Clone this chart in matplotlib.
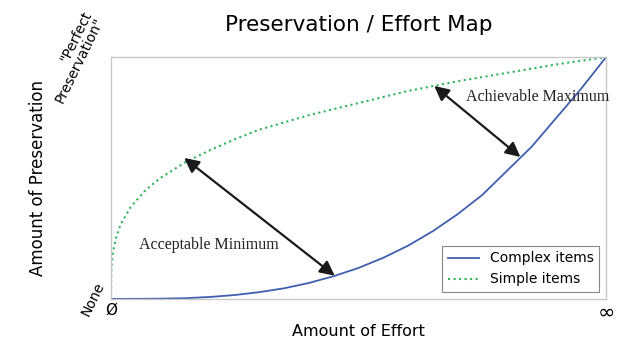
import numpy as np
import matplotlib.pyplot as plt

# curves (axes run 0..1 on both sides)
complex_x = [0.0, 0.05, 0.1, 0.15, 0.2, 0.25, 0.3, 0.35, 0.4, 0.45, 0.5,
             0.55, 0.6, 0.65, 0.7, 0.75, 0.8, 0.85, 0.9, 0.95, 1.0]
complex_y = [0.0, 0.0002, 0.001, 0.003, 0.008, 0.016, 0.028, 0.044, 0.066,
             0.094, 0.128, 0.17, 0.22, 0.28, 0.35, 0.43, 0.53, 0.63, 0.75,
             0.87, 1.0]

simple_x = [0.0, 0.001, 0.004, 0.01, 0.02, 0.04, 0.07, 0.1, 0.15, 0.2, 0.25,
            0.3, 0.4, 0.5, 0.6, 0.7, 0.8, 0.9, 1.0]
simple_y = [0.0, 0.13, 0.19, 0.25, 0.31, 0.38, 0.45, 0.50, 0.565, 0.615, 0.66,
            0.70, 0.76, 0.81, 0.86, 0.90, 0.935, 0.97, 1.0]

xtick_labels = ['Ø', '∞']
ytick_labels = ['None', '"Perfect\nPreservation"']

# arrows: (label, point on simple curve, point on complex curve, text pos)
notes = [
    ('Acceptable Minimum', (0.148, 0.583), (0.452, 0.096), (0.056, 0.224)),
    ('Achievable Maximum', (0.653, 0.881), (0.827, 0.587), (0.718, 0.837)),
]

fig = plt.figure(figsize=(6.3, 3.42), dpi=100)
ax = fig.add_axes([0.176, 0.126, 0.786, 0.707])

ax.plot(complex_x, complex_y, color='#3f5fb0', lw=1.3, label='Complex items')
ax.plot(simple_x, simple_y, color='#2fb35a', lw=1.5, ls=':', label='Simple items')

for text, top, bottom, pos in notes:
    ax.annotate('', xy=bottom, xytext=top,
                arrowprops=dict(arrowstyle='<|-|>', color='#1a1a1a', lw=1.6,
                                mutation_scale=22, shrinkA=0, shrinkB=0))
    ax.text(pos[0], pos[1], text, family='Liberation Serif', fontsize=11.5,
            color='#222222', va='center', ha='left')

ax.set_xlim(0, 1)
ax.set_ylim(0, 1)
ax.set_xticks([0, 1])
ax.set_xticklabels(xtick_labels, rotation=0)
ax.set_yticks([0, 1])
ax.set_yticklabels(ytick_labels, rotation=64, fontsize=10, ha='right',
                   va='center', linespacing=1.0)
ax.tick_params(length=0, pad=3)
xt = ax.get_xticklabels()
xt[0].set_fontsize(11)
xt[1].set_fontsize(15)

for s in ax.spines.values():
    s.set_color('#c8c8c8')
    s.set_linewidth(1.0)

ax.set_title('Preservation / Effort Map', fontsize=15.5, pad=19)
ax.set_xlabel('Amount of Effort', fontsize=11.5)
ax.set_ylabel('Amount of Preservation', fontsize=12)
ax.xaxis.set_label_coords(0.5, -0.104)
ax.yaxis.set_label_coords(-0.128, 0.5)

leg = ax.legend(loc='lower right', fontsize=10, fancybox=False,
                edgecolor='#888888', framealpha=1, handlelength=2.2)
leg.get_frame().set_linewidth(0.8)

fig.savefig('out.png', dpi=100)
